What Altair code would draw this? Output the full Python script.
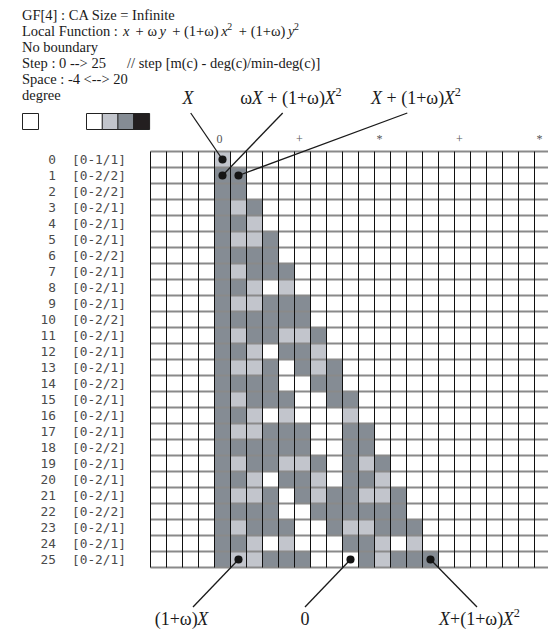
import altair as alt
import pandas as pd

# ---------------- data ----------------
STEPS = list(range(26))
COL_MIN, COL_MAX = -4, 20
# degree of each cell polynomial, listed from column 0 rightwards
# (0 = zero / white, 1 = degree 1, 2 = degree 2); unlisted cells are 0
ROW_DEGREES = [
    "1",
    "22",
    "22",
    "212",
    "221",
    "2112",
    "2222",
    "21222",
    "22101",
    "211222",
    "222222",
    "2122112",
    "2210221",
    "21120212",
    "22220022",
    "212220022",
    "221010001",
    "2112220022",
    "2222220022",
    "21221120212",
    "22102210221",
    "211202122112",
    "222200222222",
    "2122200211222",
    "2210100022101",
    "21122200021222",
]
STEP_TAGS = [
    "[0-1/1]", "[0-2/2]", "[0-2/2]", "[0-2/1]", "[0-2/1]", "[0-2/1]", "[0-2/2]",
    "[0-2/1]", "[0-2/1]", "[0-2/1]", "[0-2/2]", "[0-2/1]", "[0-2/1]", "[0-2/1]",
    "[0-2/2]", "[0-2/1]", "[0-2/1]", "[0-2/1]", "[0-2/2]", "[0-2/1]", "[0-2/1]",
    "[0-2/1]", "[0-2/2]", "[0-2/1]", "[0-2/1]", "[0-2/1]",
]
TOP_COLS = [0, 5, 10, 15, 20]
TOP_MARKS = ["0", "+", "*", "+", "*"]
DEGREE_LEVELS = [0, 1, 2, 3]
DEGREE_COLORS = ["#ffffff", "#c2c5cc", "#858c94", "#231f20"]

HEADER_LINES = [
    "GF[4] : CA Size = Infinite",
    "Local Function :",
    "No boundary",
    "Step : 0 --> 25",
    "Space : -4 <--> 20",
    "degree",
]
STEP_NOTE = "// step [m(c) - deg(c)/min-deg(c)]"
LOCAL_FN = [("x", "it"), (" + ω", "up"), ("y", "it"),
            (" + (1+ω)", "up"), ("x", "it"), ("2", "sup"), (" + (1+ω)", "up"),
            ("y", "it"), ("2", "sup")]

# annotations: target cell (col, step) and the label text
ANNOT_TARGETS = [(0, 0), (0, 1), (1, 1), (1, 25), (8, 25), (13, 25)]
ANNOT_TEXTS = [
    [("X", "it")],
    [("ω", "up"), ("X", "it"), (" + (1+ω)", "up"), ("X", "it"), ("2", "sup")],
    [("X", "it"), (" + (1+ω)", "up"), ("X", "it"), ("2", "sup")],
    [("(1+ω)", "up"), ("X", "it")],
    [("0", "up")],
    [("X", "it"), ("+(1+ω)", "up"), ("X", "it"), ("2", "sup")],
]

# ---------------- layout (page pixels) ----------------
OFF = 8
GRID_LEFT, GRID_TOP, CELL = 150.5, 151.5, 16
# label centre x, label baseline y, leader-line start x, y
ANNOT_LAYOUT = [
    (188, 104, 190.7, 113),
    (291, 104, 282.7, 113),
    (416, 104, 407.3, 113),
    (181.5, 625, 193, 607),
    (305, 625, 305, 607),
    (479.5, 625, 477, 607),
]
HEADER_X, HEADER_BASE, HEADER_STEP = 22, 20, 16
MATH_X = 123
NOTE_X = 127
HEADER_SIZE = 14.5
ANNOT_SIZE = 18
MATH_SPACE = 0.45

x_lo = GRID_LEFT - OFF
y_lo = GRID_TOP - OFF
n_cols = COL_MAX - COL_MIN + 1
n_rows = len(STEPS)
xs = alt.Scale(domain=[COL_MIN - 0.5, COL_MAX + 0.5], range=[x_lo, x_lo + n_cols * CELL], zero=False, nice=False)
ys = alt.Scale(domain=[-0.5, n_rows - 0.5], range=[y_lo, y_lo + n_rows * CELL], zero=False, nice=False)


def col_of(px):
    return (px - OFF - x_lo) / CELL + COL_MIN - 0.5


def row_of(py):
    return (py - OFF - y_lo) / CELL - 0.5


UP_W = {' ': .25, '(': .333, ')': .333, '+': .564, '1': .5, '0': .5, '2': .5, 'ω': .64,
        'X': .722}
IT_W = {'X': .611, 'x': .42, 'y': .42, ' ': .25}
SUP_SCALE, SUP_RAISE = 0.68, 0.42


def seg_w(t, style, space):
    tab = IT_W if style == "it" else UP_W
    w = sum(space if ch == ' ' else tab.get(ch, .5) for ch in t)
    return w * (SUP_SCALE if style == "sup" else 1)


def place(segments, size, left=None, center=None, space=.25):
    total = sum(seg_w(t, s, space) for t, s in segments) * size
    x = left if left is not None else center - total / 2
    out = []
    for t, s in segments:
        lead = len(t) - len(t.lstrip(' '))
        fs = size * SUP_SCALE if s == "sup" else size
        out.append((t.strip(' '), s, x + seg_w(' ' * lead, s, space) * size, fs,
                    size * SUP_RAISE if s == "sup" else 0))
        x += seg_w(t, s, space) * size
    return out


XQ = lambda f: alt.X(f, scale=xs, axis=None)
YQ = lambda f: alt.Y(f, scale=ys, axis=None)

# ---------------- tables ----------------
cells = pd.DataFrame([
    {"step": r, "col": c,
     "deg": int(ROW_DEGREES[r][c]) if 0 <= c < len(ROW_DEGREES[r]) else 0}
    for r in STEPS for c in range(COL_MIN, COL_MAX + 1)
])
bg = pd.DataFrame({"state": ["quiescent"], "c0": [COL_MIN], "c1": [COL_MAX],
                   "r0": [STEPS[0]], "r1": [STEPS[-1]]})
vlines = pd.DataFrame({"b": [c - 0.5 for c in range(COL_MIN, COL_MAX + 2)]})
hlines = pd.DataFrame({"b": [r - 0.5 for r in range(0, n_rows + 1)]})

labels = pd.DataFrame({"step": STEPS, "num": [str(s) for s in STEPS], "tag": STEP_TAGS})
tops = pd.DataFrame({"col": TOP_COLS, "mark": TOP_MARKS})


def swatch_legend(x, y):
    return alt.Legend(orient="none", legendX=x - OFF, legendY=y - OFF,
                      direction="horizontal", symbolType="square", symbolSize=256,
                      symbolStrokeColor="#222", symbolStrokeWidth=1,
                      labelExpr="''", labelOffset=0, labelFontSize=1, labelLimit=1,
                      columnPadding=-5.3, gridAlign="none", title="", padding=0)


# ---------------- layers ----------------
bg_layer = alt.Chart(bg).transform_calculate(
    x0="datum.c0 - 0.5", x1="datum.c1 + 0.5", y0="datum.r0 - 0.5", y1="datum.r1 + 0.5"
).mark_rect().encode(
    x=XQ("x0:Q"), x2="x1:Q", y=YQ("y0:Q"), y2="y1:Q",
    fill=alt.Fill("state:N", scale=alt.Scale(domain=["quiescent"], range=["#ffffff"]),
                  legend=swatch_legend(HEADER_X, 113)),
)

cell_layer = alt.Chart(cells).transform_calculate(
    x0="datum.col - 0.5", x1="datum.col + 0.5", y0="datum.step - 0.5", y1="datum.step + 0.5"
).mark_rect().encode(
    x=XQ("x0:Q"), x2="x1:Q", y=YQ("y0:Q"), y2="y1:Q",
    fill=alt.Fill("deg:O", scale=alt.Scale(domain=DEGREE_LEVELS, range=DEGREE_COLORS),
                  legend=swatch_legend(86, 113)),
)

h_layer = alt.Chart(hlines).transform_calculate(
    a=f"{COL_MIN - 0.5}", z=f"{COL_MAX + 0.5}"
).mark_rule(color="#8a8a8a", strokeWidth=2).encode(
    y=YQ("b:Q"), x=XQ("a:Q"), x2="z:Q")

v_layer = alt.Chart(vlines).transform_calculate(
    a="-0.5", z=f"{n_rows - 0.5}"
).mark_rule(color="#111111", strokeWidth=1).encode(
    x=XQ("b:Q"), y=YQ("a:Q"), y2="z:Q")

lines = pd.DataFrame([
    {"c": t[0], "r": t[1], "c2": col_of(l[2]), "r2": row_of(l[3])}
    for t, l in zip(ANNOT_TARGETS, ANNOT_LAYOUT)
])
line_layer = alt.Chart(lines).mark_rule(color="#1a1a1a", strokeWidth=1.3).encode(
    x=XQ("c:Q"), y=YQ("r:Q"), x2="c2:Q", y2="r2:Q")
dot_layer = alt.Chart(lines).mark_circle(color="#151515", opacity=1, size=66).encode(
    x=XQ("c:Q"), y=YQ("r:Q"))

num_layer = alt.Chart(labels).transform_calculate(cx=f"{col_of(56)}").mark_text(
    font="DejaVu Sans Mono", fontSize=12.8, color="#4a4a4a", align="right", baseline="middle"
).encode(x=XQ("cx:Q"), y=YQ("step:Q"), text="num:N")
tag_layer = alt.Chart(labels).transform_calculate(cx=f"{col_of(72)}").mark_text(
    font="DejaVu Sans Mono", fontSize=12.8, color="#4a4a4a", align="left", baseline="middle"
).encode(x=XQ("cx:Q"), y=YQ("step:Q"), text="tag:N")
top_layer = alt.Chart(tops).transform_calculate(cy=f"{row_of(139)}").mark_text(
    font="Liberation Serif", fontSize=12, color="#555555", align="center", baseline="middle", dx=-3
).encode(x=XQ("col:Q"), y=YQ("cy:Q"), text="mark:N")

# serif text pieces (header and annotations)
pieces = []
for i, line in enumerate(HEADER_LINES):
    base = HEADER_BASE + i * HEADER_STEP
    pieces.append({"text": line, "style": "up", "cx": col_of(HEADER_X), "cy": row_of(base),
                   "fs": HEADER_SIZE})
    if line.startswith("Local Function"):
        for t, s, px, fs, up in place(LOCAL_FN, HEADER_SIZE, left=MATH_X, space=MATH_SPACE):
            pieces.append({"text": t, "style": s, "cx": col_of(px), "cy": row_of(base - up), "fs": fs})
    if line == "Step : 0 --> 25":
        pieces.append({"text": STEP_NOTE, "style": "up", "cx": col_of(NOTE_X),
                       "cy": row_of(base), "fs": HEADER_SIZE})
for segs, lay in zip(ANNOT_TEXTS, ANNOT_LAYOUT):
    for t, s, px, fs, up in place(segs, ANNOT_SIZE, center=lay[0]):
        pieces.append({"text": t, "style": s, "cx": col_of(px), "cy": row_of(lay[1] - up), "fs": fs})
pieces = pd.DataFrame(pieces)


def serif_layer(italic):
    cond = "datum.style == 'it'" if italic else "datum.style != 'it'"
    return alt.Chart(pieces).transform_filter(cond).mark_text(
        font="Liberation Serif", fontStyle="italic" if italic else "normal",
        color="#1a1a1a", align="left", baseline="alphabetic").encode(
        x=XQ("cx:Q"), y=YQ("cy:Q"), text="text:N",
        size=alt.Size("fs:Q", scale=None, legend=None))


chart = alt.layer(
    bg_layer, cell_layer, h_layer, v_layer, line_layer, dot_layer,
    num_layer, tag_layer, top_layer, serif_layer(False), serif_layer(True),
).resolve_scale(fill="independent").properties(
    width=540, height=621, padding=0, autosize=alt.AutoSizeParams(type="none"),
    background="#ffffff",
).configure_view(strokeWidth=0)

chart.save("out.html", embed_options={"renderer": "svg", "actions": False})
